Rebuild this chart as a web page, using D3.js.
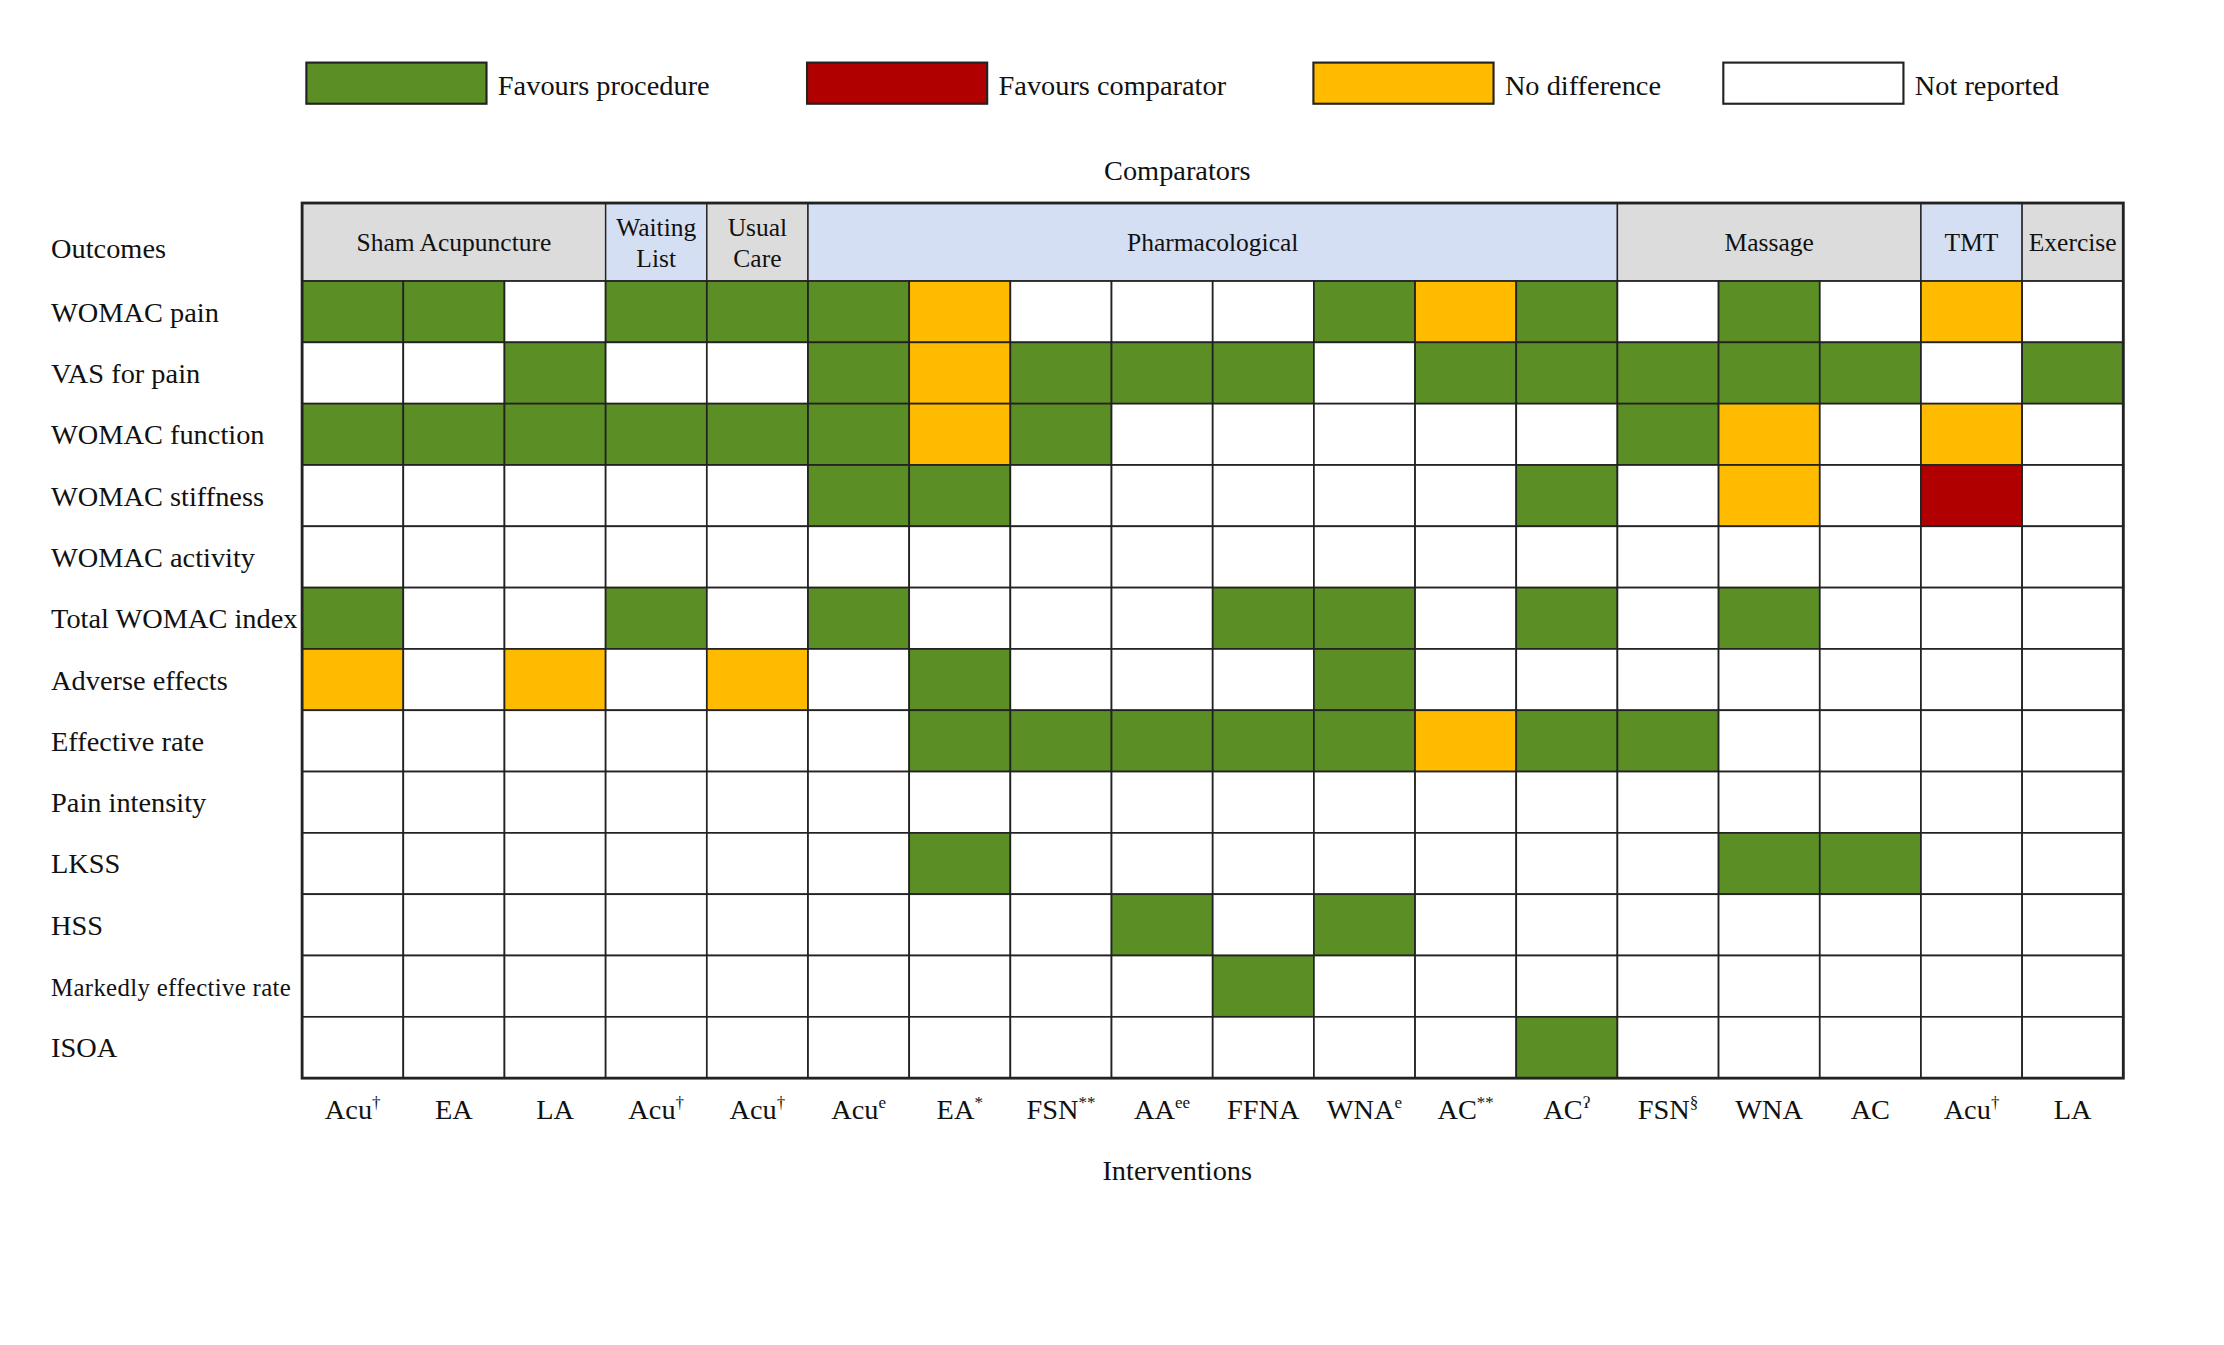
<!DOCTYPE html>
<html><head><meta charset="utf-8">
<script src="https://cdn.jsdelivr.net/npm/d3@7"></script>
<style>body{margin:0;background:#fff}text{font-family:"Liberation Serif","Times New Roman",serif;fill:#111}</style>
</head><body>
<script>
// intervention labels: [main, superscript]
var interventions = [["Acu","†"],["EA",""],["LA",""],["Acu","†"],["Acu","†"],["Acu","e"],["EA","*"],["FSN","**"],["AA","ee"],["FFNA",""],["WNA","e"],["AC","**"],["AC","ʔ"],["FSN","§"],["WNA",""],["AC",""],["Acu","†"],["LA",""]];
var outcomes = ["WOMAC pain","VAS for pain","WOMAC function","WOMAC stiffness","WOMAC activity","Total WOMAC index","Adverse effects","Effective rate","Pain intensity","LKSS","HSS","Markedly effective rate","ISOA"];
// G favours procedure, R favours comparator, Y no difference, . not reported
var results = [
 "GG.GGGY...GYG.G.Y.",
 "..G..GYGGG.GGGGG.G",
 "GGGGGGYG.....GY.Y.",
 ".....GG.....G.Y.R.",
 "..................",
 "G..G.G...GG.G.G...",
 "Y.Y.Y.G...G.......",
 "......GGGGGYGG....",
 "..................",
 "......G.......GG..",
 "........G.G.......",
 ".........G........",
 "............G....."
];
var groups = [["Sham Acupuncture",0,3,"#dcdcdc"],["Waiting|List",3,4,"#d5dff3"],["Usual|Care",4,5,"#dcdcdc"],["Pharmacological",5,13,"#d5dff3"],["Massage",13,16,"#dcdcdc"],["TMT",16,17,"#d5dff3"],["Exercise",17,18,"#dcdcdc"]];
var legend = [["G","Favours procedure"],["R","Favours comparator"],["Y","No difference"],[".","Not reported"]];
var colors = {G:"#5b8f25", R:"#b00000", Y:"#ffbb00", ".":"#ffffff"};

var svg = d3.select("body").append("svg")
	.attr("width",2224).attr("height",1345)
	.attr("viewBox","0 0 1568 948");

var x = d3.scaleBand().domain(d3.range(interventions.length)).range([213,1497]);
var y = d3.scaleBand().domain(d3.range(outcomes.length)).range([198,760]);
var hTop = 143;

//legend
var lx = d3.scaleOrdinal().domain(legend.map(d=>d[0])).range([216,569,926,1215]);
var lg = svg.selectAll("g.leg").data(legend).enter().append("g")
	.attr("transform", d => "translate(" + lx(d[0]) + ",44)");
lg.append("rect").attr("width",127).attr("height",29)
	.attr("fill", d => colors[d[0]]).attr("stroke","#222").attr("stroke-width",1.5);
lg.append("text").attr("x",135).attr("y",23).attr("font-size",20).text(d => d[1]);

svg.append("text").attr("x",830).attr("y",127).attr("text-anchor","middle").attr("font-size",20).text("Comparators");

//header groups
var hg = svg.selectAll("g.grp").data(groups).enter().append("g");
hg.append("rect").attr("x", d => x(d[1])).attr("y",hTop)
	.attr("width", d => x(d[2]-1)+x.bandwidth()-x(d[1])).attr("height",198-hTop)
	.attr("fill", d => d[3]).attr("stroke","#222").attr("stroke-width",1);
hg.each(function(d){
	var lines = d[0].split("|");
	var cx = x(d[1]) + (x(d[2]-1)+x.bandwidth()-x(d[1]))/2;
	lines.forEach(function(t,i){
		d3.select(this).append("text").attr("x",cx)
			.attr("y", lines.length==1 ? 177 : 166 + i*22)
			.attr("text-anchor","middle").attr("font-size",18).text(t);
	}, this);
});

//cells
var cells = [];
results.forEach(function(r,i){ r.split("").forEach(function(c,j){ cells.push({r:i,c:j,v:c}); }); });
svg.selectAll("rect.cell").data(cells).enter().append("rect")
	.attr("x", d => x(d.c)).attr("y", d => y(d.r))
	.attr("width", x.bandwidth()).attr("height", y.bandwidth())
	.attr("fill", d => colors[d.v]).attr("stroke","#222").attr("stroke-width",1.2);
svg.append("rect").attr("x",213).attr("y",hTop).attr("width",1284).attr("height",760-hTop)
	.attr("fill","none").attr("stroke","#222").attr("stroke-width",2);

//row labels
svg.append("text").attr("x",36).attr("y",182).attr("font-size",20).text("Outcomes");
svg.selectAll("text.row").data(outcomes).enter().append("text")
	.attr("x",36).attr("y",(d,i) => y(i)+y.bandwidth()/2+7)
	.attr("font-size", d => d.length>20 ? 17.5 : 20)
	.attr("textLength", d => d.length>20 ? 169 : null)
	.text(d => d);

//column labels
var cl = svg.selectAll("text.col").data(interventions).enter().append("text")
	.attr("x",(d,i) => x(i)+x.bandwidth()/2).attr("y",789)
	.attr("text-anchor","middle").attr("font-size",20);
cl.append("tspan").text(d => d[0]);
cl.append("tspan").attr("dy",-8).attr("font-size",12).text(d => d[1]);

svg.append("text").attr("x",830).attr("y",832).attr("text-anchor","middle").attr("font-size",20).text("Interventions");
</script>
</body></html>
